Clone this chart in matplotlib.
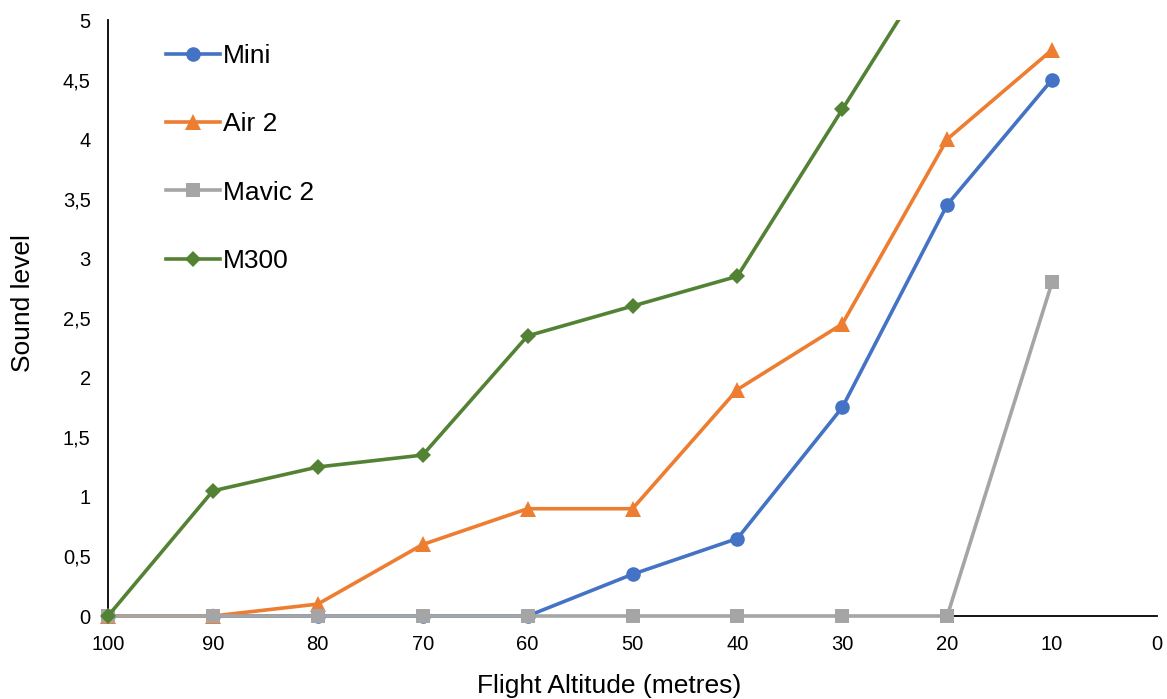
import matplotlib
matplotlib.use("Agg")
import matplotlib.pyplot as plt
import matplotlib.patches as mpatches
from matplotlib.ticker import FuncFormatter

plt.rcParams['font.family'] = ['Liberation Sans', 'DejaVu Sans']

altitude = [100, 90, 80, 70, 60, 50, 40, 30, 20, 10]
mini = [0, 0, 0, 0, 0, 0.35, 0.65, 1.75, 3.45, 4.5]
air2 = [0, 0, 0.1, 0.6, 0.9, 0.9, 1.9, 2.45, 4.0, 4.75]
mavic2 = [0, 0, 0, 0, 0, 0, 0, 0, 0, 2.8]
m300 = [0, 1.05, 1.25, 1.35, 2.35, 2.6, 2.85, 4.25, 5.65, 6.0]

series = [
    ("Mini", mini, "#4472C4", "o", 10.5),
    ("Air 2", air2, "#ED7D31", "^", 11),
    ("Mavic 2", mavic2, "#A5A5A5", "s", 9.5),
    ("M300", m300, "#548235", "D", 8),
]

fig = plt.figure(figsize=(11.67, 6.99), dpi=100)
ax = fig.add_axes([108/1167, 83/699, (1157-108)/1167, (616-20)/699])

clip = mpatches.Rectangle((-0.05, -0.05), 1.1, 1.05, transform=ax.transAxes,
                          fill=False, visible=False)
ax.add_patch(clip)

for name, vals, col, mk, ms in series:
    ln, = ax.plot(altitude, vals, color=col, lw=2.6, marker=mk, ms=ms,
                  mec=col, mfc=col, mew=0, label=name, zorder=3)
    ln.set_clip_path(clip)

ax.set_xlim(100, 0)
ax.set_ylim(0, 5)
ax.set_xticks(range(100, -1, -10))
ax.set_yticks([i * 0.5 for i in range(11)])
ax.yaxis.set_major_formatter(FuncFormatter(lambda v, p: (f"{v:g}").replace('.', ',')))
ax.tick_params(axis='both', length=0, labelsize=14.5)
ax.tick_params(axis='x', pad=13.5)
ax.tick_params(axis='y', pad=12.5)

for s in ['top', 'right']:
    ax.spines[s].set_visible(False)
for s in ['left', 'bottom']:
    ax.spines[s].set_color('black')
    ax.spines[s].set_linewidth(1.3)

ax.set_xlabel("Flight Altitude (metres)", fontsize=19)
ax.xaxis.set_label_coords((609-108)/1049, (616-686)/596)
ax.xaxis.label.set_va('center')
ax.set_ylabel("Sound level", fontsize=19)
ax.yaxis.set_label_coords((23-108)/1049, (616-303)/596)
ax.yaxis.label.set_va('center')

leg = ax.legend(loc='upper left', bbox_to_anchor=((166-108)/1049, (616-44)/596),
                frameon=False, fontsize=19, handlelength=2.05, handletextpad=0.1,
                labelspacing=1.68, borderpad=0, borderaxespad=0)

fig.savefig("out.png", dpi=100)
